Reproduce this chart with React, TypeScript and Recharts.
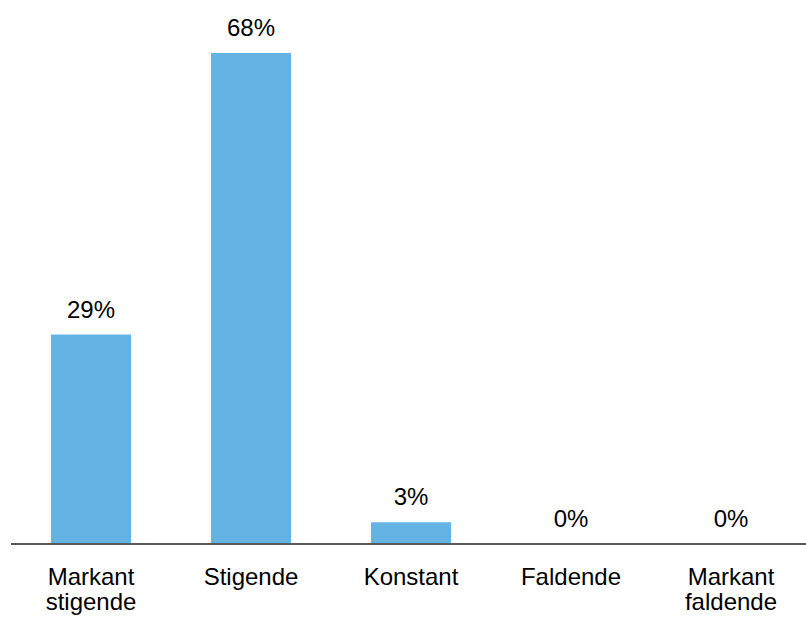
import React from 'react';
import { ComposedChart, Bar, Line, XAxis, YAxis, LabelList } from 'recharts';

const categories = ['Markant stigende', 'Stigende', 'Konstant', 'Faldende', 'Markant faldende'];
const shares = [29, 68, 3, 0, 0];

const data = categories.map((c, i) => ({ name: c, value: shares[i] }));

const FONT = '"Liberation Sans", Arial, sans-serif';

const Tick = (props: any) => {
  const { x, y, payload } = props;
  const words = String(payload.value).split(' ');
  const lines = words.length > 1 ? [words[0], words.slice(1).join(' ')] : [words[0]];
  return (
    <text x={x} y={y} textAnchor="middle" fill="#000" fontSize={24} fontFamily={FONT}>
      {lines.map((l, i) => (
        <tspan key={i} x={x} y={y + 41 + i * 25}>{l}</tspan>
      ))}
    </text>
  );
};

export default function App() {
  return (
    <div style={{ position: 'absolute', left: 0, top: 0, width: 806, height: 617, overflow: 'hidden', background: '#fff' }}>
      <ComposedChart
        width={811}
        height={617}
        data={data}
        margin={{ top: 53, right: 0, left: 11, bottom: 13 }}
        barSize={80}
      >
        <YAxis hide domain={[0, 68]} />
        <XAxis
          dataKey="name"
          height={60}
          tickSize={0}
          tickMargin={0}
          axisLine={{ stroke: '#595959', strokeWidth: 2 }}
          tickLine={false}
          tick={<Tick />}
          interval={0}
        />
        <Bar dataKey="value" fill="#63B4E4" isAnimationActive={false} />
        <Line dataKey="value" stroke="none" dot={false} activeDot={false} isAnimationActive={false}>
          <LabelList
            dataKey="value"
            position="top"
            offset={17}
            formatter={(v: any) => `${v}%`}
            fill="#000"
            fontSize={24}
            fontFamily={FONT}
          />
        </Line>
      </ComposedChart>
    </div>
  );
}
